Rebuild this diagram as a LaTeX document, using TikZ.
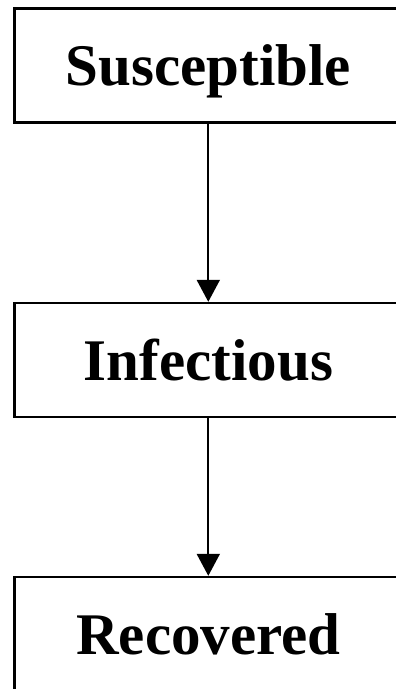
\documentclass[tikz,border=0pt]{standalone}
\usepackage{fontspec}
\setmainfont{Liberation Serif}
\usetikzlibrary{arrows.meta}
\begin{document}
\begin{tikzpicture}[x=1pt,y=-1pt,
  statebox/.style={draw=black,line width=2.4pt,rectangle,minimum width=388pt,minimum height=114pt,
    inner sep=0pt,text height=40pt,text depth=0pt,font=\fontsize{59}{60}\selectfont\bfseries},
  flow/.style={line width=2pt,-{Triangle[width=23pt,length=22pt]}}]
\clip (0,0) rectangle (396,689);
\fill[white] (0,0) rectangle (396,689);
\node[statebox] (S) at (208.5,65.5) {Susceptible};
\node[statebox] (I) at (208.5,360) {Infectious};
\node[statebox] (R) at (208.5,634) {Recovered};
\draw[flow] (208.3,0 |- S.south) -- (208.3,0 |- I.north);
\draw[flow] (208.3,0 |- I.south) -- (208.3,0 |- R.north);
\end{tikzpicture}
\end{document}
